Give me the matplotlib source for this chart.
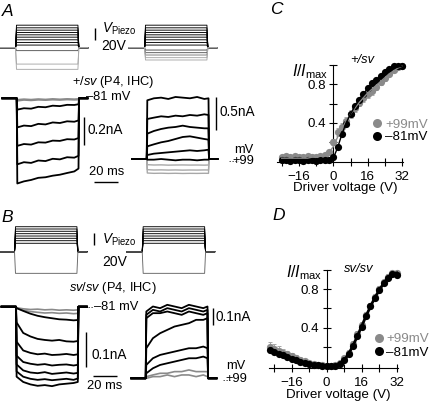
import matplotlib
matplotlib.use("Agg")
import matplotlib.pyplot as plt
from matplotlib.lines import Line2D

plt.rcParams['font.family'] = ['Liberation Sans', 'DejaVu Sans']
plt.rcParams['mathtext.fontset'] = 'custom'
plt.rcParams['mathtext.rm'] = 'Liberation Sans'
plt.rcParams['mathtext.it'] = 'Liberation Sans:italic'

# ---------------- data ----------------
# stimulus timing (ms)
T_ON, T_OFF, T_END = 12.0, 64.0, 71.0
T_IN = [12.5, 18, 24, 30, 36, 42, 48, 54, 60, 63.5]
P_T = [-1.5, T_ON - 0.4, T_ON + 0.4, T_OFF - 0.4, T_OFF + 0.4, 72.0]

# piezo protocols (V)
protoA_left_up = [4.5, 9, 13.5, 18, 22, 26, 30, 34, 38.5]
protoA_left_down = [-5, -28, -37]
protoA_right_up = [4.5, 9, 13.5, 18, 22, 26, 30, 34, 38.5]
protoA_right_down = [-4, -8.5, -12.5, -17, -21]
protoB_up = [14.4, 18.8, 22.9, 26.8, 30.8, 34.9, 38.8, 42.7]
protoB_down = [-37]

# currents (nA) during the step, at T_IN
A_left_black = [
    [-0.080, -0.070, -0.073, -0.060, -0.063, -0.052, -0.055, -0.046, -0.047, -0.042],
    [-0.205, -0.192, -0.196, -0.180, -0.184, -0.170, -0.174, -0.162, -0.165, -0.156],
    [-0.335, -0.322, -0.326, -0.310, -0.312, -0.298, -0.300, -0.288, -0.290, -0.280],
    [-0.465, -0.450, -0.455, -0.438, -0.442, -0.426, -0.430, -0.415, -0.418, -0.405],
    [-0.600, -0.585, -0.575, -0.560, -0.556, -0.545, -0.538, -0.526, -0.515, -0.495],
]
A_left_grey = [
    [-0.010, -0.006, -0.009, -0.005, -0.008, -0.004, -0.007, -0.004, -0.006, -0.004],
    [-0.018, -0.012, -0.015, -0.011, -0.013, -0.010, -0.012, -0.009, -0.011, -0.010],
]
A_right_black = [
    [0.88, 0.91, 0.92, 0.90, 0.93, 0.92, 0.91, 0.93, 0.90, 0.91],
    [0.60, 0.62, 0.64, 0.63, 0.65, 0.64, 0.66, 0.65, 0.67, 0.66],
    [0.38, 0.42, 0.45, 0.47, 0.48, 0.50, 0.48, 0.47, 0.46, 0.46],
    [0.19, 0.22, 0.25, 0.27, 0.30, 0.33, 0.34, 0.32, 0.30, 0.29],
    [0.06, 0.08, 0.09, 0.10, 0.11, 0.12, 0.13, 0.12, 0.13, 0.14],
    [-0.01, -0.01, 0.00, -0.01, -0.02, -0.01, -0.01, -0.02, -0.01, -0.01],
]
A_right_grey = [
    [-0.085, -0.090, -0.088, -0.092, -0.090, -0.089, -0.091, -0.090, -0.092, -0.090],
    [-0.160, -0.165, -0.163, -0.166, -0.164, -0.167, -0.165, -0.166, -0.164, -0.165],
    [-0.210, -0.215, -0.213, -0.216, -0.214, -0.217, -0.215, -0.216, -0.214, -0.215],
]
B_left_black = [
    [-0.004, -0.012, -0.020, -0.026, -0.030, -0.033, -0.036, -0.037, -0.039, -0.038],
    [-0.045, -0.075, -0.085, -0.092, -0.095, -0.097, -0.095, -0.099, -0.100, -0.098],
    [-0.100, -0.125, -0.132, -0.136, -0.134, -0.138, -0.137, -0.135, -0.138, -0.136],
    [-0.140, -0.158, -0.163, -0.166, -0.164, -0.168, -0.166, -0.165, -0.168, -0.166],
    [-0.165, -0.182, -0.188, -0.190, -0.187, -0.192, -0.190, -0.188, -0.191, -0.189],
    [-0.185, -0.200, -0.206, -0.209, -0.207, -0.210, -0.208, -0.206, -0.209, -0.205],
    [-0.200, -0.215, -0.222, -0.226, -0.224, -0.227, -0.222, -0.220, -0.218, -0.215],
]
B_left_grey = [
    [-0.003, -0.006, -0.008, -0.007, -0.009, -0.008, -0.010, -0.009, -0.010, -0.009],
    [-0.005, -0.010, -0.014, -0.016, -0.018, -0.017, -0.019, -0.018, -0.020, -0.019],
]
B_right_black = [
    [0.40, 0.43, 0.42, 0.44, 0.43, 0.42, 0.44, 0.43, 0.42, 0.43],
    [0.38, 0.41, 0.40, 0.42, 0.41, 0.40, 0.42, 0.41, 0.40, 0.41],
    [0.36, 0.39, 0.39, 0.40, 0.39, 0.38, 0.40, 0.39, 0.38, 0.39],
    [0.18, 0.24, 0.27, 0.29, 0.31, 0.32, 0.33, 0.35, 0.35, 0.36],
    [0.08, 0.12, 0.14, 0.15, 0.16, 0.17, 0.18, 0.18, 0.19, 0.18],
    [0.03, 0.06, 0.08, 0.09, 0.10, 0.11, 0.12, 0.12, 0.13, 0.12],
]
B_right_grey = [
    [0.01, 0.02, 0.03, 0.03, 0.04, 0.04, 0.05, 0.04, 0.04, 0.04],
    [0.00, 0.01, 0.01, 0.02, 0.01, 0.02, 0.02, 0.01, 0.02, 0.01],
]

# activation curves
C_volt = [-24, -22, -20, -18, -16, -14, -12, -10, -8, -6, -4, -2, 0, 2, 4, 6, 8,
          10, 12, 14, 16, 18, 20, 22, 24, 26, 28, 30, 32]
C_neg81 = [0.01, 0.01, 0.00, 0.01, 0.01, 0.00, 0.01, 0.01, 0.00, 0.01, 0.01, 0.01,
           0.04, 0.15, 0.28, 0.39, 0.49, 0.57, 0.64, 0.70, 0.76, 0.81, 0.85, 0.89,
           0.93, 0.96, 0.99, 0.99, 0.99]
C_pos99 = [0.04, 0.05, 0.04, 0.05, 0.04, 0.04, 0.05, 0.04, 0.04, 0.05, 0.06, 0.09,
           0.20, 0.30, 0.36, 0.42, 0.49, 0.55, 0.61, 0.66, 0.70, 0.73, 0.77, 0.82,
           0.87, 0.91, 0.95, 0.98, 0.99]
C_err = [0.01, 0.01, 0.01, 0.01, 0.01, 0.01, 0.01, 0.01, 0.01, 0.01, 0.01, 0.02,
         0.03, 0.04, 0.04, 0.04, 0.04, 0.04, 0.04, 0.04, 0.04, 0.04, 0.03, 0.03,
         0.03, 0.02, 0.02, 0.02, 0.02]
C_fit_neg81 = [0.00, 0.00, 0.00, 0.00, 0.00, 0.00, 0.00, 0.00, 0.00, 0.00, 0.01, 0.01,
               0.03, 0.14, 0.28, 0.40, 0.49, 0.57, 0.64, 0.70, 0.76, 0.81, 0.85, 0.89,
               0.92, 0.95, 0.97, 0.98, 0.99]
C_fit_pos99 = [0.03, 0.03, 0.03, 0.03, 0.03, 0.03, 0.03, 0.04, 0.04, 0.05, 0.06, 0.09,
               0.15, 0.25, 0.34, 0.42, 0.49, 0.55, 0.61, 0.66, 0.71, 0.75, 0.79, 0.83,
               0.87, 0.91, 0.94, 0.97, 0.99]

D_volt = [-26, -24, -22, -20, -18, -16, -14, -12, -10, -8, -6, -4, -2, 0, 2, 4, 6, 8,
          10, 12, 14, 16, 18, 20, 22, 24, 26, 28, 30, 32]
D_neg81 = [0.17, 0.15, 0.13, 0.11, 0.09, 0.075, 0.06, 0.045, 0.035, 0.025, 0.015, 0.008,
           0.003, 0.00, 0.00, 0.005, 0.02, 0.06, 0.12, 0.21, 0.31, 0.41, 0.52, 0.62,
           0.71, 0.79, 0.86, 0.92, 0.96, 0.95]
D_pos99 = [0.20, 0.18, 0.16, 0.14, 0.12, 0.10, 0.08, 0.065, 0.05, 0.035, 0.025, 0.015,
           0.01, 0.005, 0.005, 0.01, 0.03, 0.08, 0.14, 0.23, 0.33, 0.43, 0.53, 0.63,
           0.72, 0.80, 0.87, 0.93, 0.97, 0.97]
D_err = [0.05, 0.05, 0.045, 0.04, 0.04, 0.035, 0.03, 0.03, 0.025, 0.02, 0.02, 0.015,
         0.01, 0.01, 0.01, 0.01, 0.015, 0.02, 0.03, 0.03, 0.03, 0.03, 0.03, 0.03,
         0.03, 0.03, 0.03, 0.03, 0.02, 0.02]
D_fit = [0.165, 0.145, 0.125, 0.107, 0.09, 0.075, 0.06, 0.047, 0.035, 0.025, 0.016,
         0.009, 0.004, 0.001, 0.0, 0.005, 0.02, 0.06, 0.125, 0.21, 0.31, 0.415, 0.52,
         0.62, 0.71, 0.79, 0.86, 0.92, 0.96, 0.97]

GREY = '#8a8a8a'
LGREY = '#a8a8a8'

W, H = 430, 403
fig = plt.figure(figsize=(W / 100, H / 100), dpi=100)
FS = 9.3


def px_axes(l, t, r, b):
    return fig.add_axes([l / W, 1 - b / H, (r - l) / W, (b - t) / H])


def scaled_axes(l, t, r, b, x0, y0, sx, sy):
    ax = px_axes(l, t, r, b)
    ax.set_xlim((l - x0) / sx, (r - x0) / sx)
    ax.set_ylim((y0 - b) / sy, (y0 - t) / sy)
    ax.axis('off')
    return ax


def draw_traces(ax, traces, color, lw):
    for vals in traces:
        t = [0, T_ON] + T_IN + [T_OFF, T_END]
        y = [0, 0] + list(vals) + [0, 0]
        ax.plot(t, y, color=color, lw=lw, solid_joinstyle='round')


def draw_protocol(ax, up, down, down_colors):
    for lev in up:
        ax.plot(P_T, [0, 0, lev, lev, 0, 0], color='black', lw=0.65)
    for lev, c in zip(down, down_colors):
        ax.plot(P_T, [0, 0, lev, lev, 0, 0], color=c, lw=0.65)


MS = 1.2      # px per ms
PV = 0.585    # px per V

# ---- protocols ----
axp = scaled_axes(0, 15, 92, 75, 16 - T_ON * MS, 47.7, MS, PV)
draw_protocol(axp, protoA_left_up, protoA_left_down, ['#555555', LGREY, LGREY])
axp = scaled_axes(128, 15, 220, 75, 145 - T_ON * MS, 47.7, MS, PV)
draw_protocol(axp, protoA_right_up, protoA_right_down,
              ['#444444', '#555555', '#777777', LGREY, LGREY])
axp = scaled_axes(0, 220, 92, 280, 15 - T_ON * MS, 251.7, MS, PV)
draw_protocol(axp, protoB_up, protoB_down, ['#666666'])
axp = scaled_axes(125, 220, 220, 280, 142.7 - T_ON * MS, 251.7, MS, PV)
draw_protocol(axp, protoB_up, protoB_down, ['#666666'])

# ---- current traces ----
ax = scaled_axes(0, 90, 92, 190, 16.7 - T_ON * MS, 98.3, MS, 142)
draw_traces(ax, A_left_grey, GREY, 1.2)
draw_traces(ax, A_left_black, 'black', 1.3)
ax = scaled_axes(128, 90, 222, 180, 146.7 - T_ON * MS, 159, MS, 66.7)
draw_traces(ax, A_right_grey, LGREY, 1.0)
draw_traces(ax, A_right_black, 'black', 1.3)
ax = scaled_axes(0, 298, 92, 395, 16 - T_ON * MS, 306.7, MS, 350)
draw_traces(ax, B_left_grey, GREY, 1.2)
draw_traces(ax, B_left_black, 'black', 1.3)
ax = scaled_axes(125, 300, 222, 392, 145.7 - T_ON * MS, 378.3, MS, 167)
draw_traces(ax, B_right_grey, GREY, 1.2)
draw_traces(ax, B_right_black, 'black', 1.3)


# ---- activation curves ----
def iv_axes(l, t, r, b, xlim, ylim, volt, grey, black, err, fit_black, fit_grey,
            thick):
    ax = px_axes(l, t, r, b)
    ax.set_xlim(*xlim)
    ax.set_ylim(*ylim)
    for s in ['top', 'right']:
        ax.spines[s].set_visible(False)
    ax.spines['left'].set_position(('data', 0))
    for s in ['left', 'bottom']:
        ax.spines[s].set_linewidth(0.8)
    ax.set_xticks([-16, 0, 16, 32])
    ax.set_xticklabels(['\u221216', '0', '16', '32'])
    ax.set_xticks([-24, -8, 8, 24], minor=True)
    ax.set_yticks([0.4, 0.8])
    ax.set_yticklabels(['0.4', '0.8'])
    ax.set_yticks([0.2, 0.6, 1.0], minor=True)
    ax.tick_params(which='both', direction='inout', length=6, width=0.8,
                   labelsize=FS + 0.3, pad=2.5)
    ax.tick_params(axis='x', pad=3.5)
    ax.set_facecolor('none')
    ax.errorbar(volt, grey, yerr=err, fmt='none', ecolor=LGREY, elinewidth=0.7,
                capsize=1.5, capthick=0.7, clip_on=False, zorder=2)
    ax.plot(volt, grey, 'o', color=GREY, ms=5.2, mew=0, clip_on=False, zorder=3)
    ax.plot(volt, black, 'o', color='black', ms=5.2, mew=0, clip_on=False, zorder=4)
    if fit_grey is not None:
        ax.plot(volt, fit_grey, color=GREY, lw=1.0, zorder=5)
    ax.plot(volt, fit_black, color='black', lw=thick, zorder=6)
    return ax


axC = iv_axes(277.4, 65.2, 403.2, 162, (-26, 32.5), (-0.01, 1.0), C_volt, C_pos99,
              C_neg81, C_err, C_fit_neg81, C_fit_pos99, 1.0)
axD = iv_axes(268.7, 270, 397.8, 367.9, (-26.5, 32.5), (-0.02, 1.0), D_volt, D_pos99,
              D_neg81, D_err, D_fit, None, 2.0)

for axx, (lx, ly), pitch in [(axC, (373.2, 131), 0.0), (axD, (374.5, 346), 0.1)]:
    handles = [Line2D([], [], ls='none', marker='o', color=GREY, ms=6.5, mew=0),
               Line2D([], [], ls='none', marker='o', color='black', ms=6.5, mew=0)]
    leg = axx.legend(handles, ['+99mV', '\u201381mV'], loc='center left',
                     bbox_to_anchor=(lx / W, 1 - ly / H),
                     bbox_transform=fig.transFigure, frameon=False, fontsize=FS + 0.3,
                     handlelength=0.6, handletextpad=0.3, labelspacing=pitch,
                     borderpad=0, borderaxespad=0)
    leg.get_texts()[0].set_color(GREY)

# ---- overlay for labels and scale bars ----
ov = fig.add_axes([0, 0, 1, 1])
ov.set_xlim(0, W)
ov.set_ylim(H, 0)
ov.axis('off')


def txt(x, y, s, ha='left', va='center', size=FS, **kw):
    ov.text(x, y, s, ha=ha, va=va, fontsize=size, **kw)


def bar(x0, y0, x1, y1, **kw):
    ov.plot([x0, x1], [y0, y1], color=kw.pop('color', 'black'), lw=kw.pop('lw', 1.0),
            solid_capstyle='butt', **kw)


# panel letters
txt(1.5, 11, 'A', size=12.5, style='italic')
txt(1.5, 217, 'B', size=12.5, style='italic')
txt(270, 10, 'C', size=12.5, style='italic')
txt(272, 215, 'D', size=12.5, style='italic')

# A annotations
bar(95, 28.3, 95, 28.3 + 20 * PV)
txt(101.5, 29, r'$\mathit{V}_{\mathrm{Piezo}}$', size=9.8)
txt(101.5, 46.5, '20V', size=10)
txt(113, 82, r'$\mathit{+/sv}$ (P4, IHC)', ha='center')
txt(85.5, 97.5, '\u201381 mV')
bar(84, 116.7, 84, 116.7 + 0.2 * 142)
txt(88, 130, '0.2nA', size=9.8)
bar(94.3, 181.5, 94.3 + 20 * MS, 181.5)
txt(106.3, 172, '20 ms', ha='center')
bar(216, 96.7, 216, 96.7 + 0.5 * 66.7)
txt(220, 112, '0.5nA', size=9.8)
txt(253.5, 150, 'mV', ha='right')
txt(254, 161, '+99', ha='right')
bar(229, 160.5, 238, 160.5, lw=0.7, ls=(0, (1.5, 1.5)), color='#555555')

# B annotations
bar(94, 233, 94, 233 + 20 * PV)
txt(101.5, 240, r'$\mathit{V}_{\mathrm{Piezo}}$', size=9.8)
txt(102, 262.5, '20V', size=10)
txt(113, 288, r'$\mathit{sv/sv}$ (P4, IHC)', ha='center')
bar(88, 306.5, 93, 306.5, lw=0.7, ls=(0, (1.5, 1.5)), color='#555555')
txt(94.5, 306.5, '\u201381 mV')
bar(86, 331.7, 86, 331.7 + 0.1 * 350)
txt(91, 355, '0.1nA', size=9.8)
bar(92.7, 376, 92.7 + 20 * MS, 376)
txt(104.7, 386, '20 ms', ha='center')
bar(213, 308.3, 213, 308.3 + 0.1 * 167)
txt(216, 317, '0.1nA', size=9.8)
txt(245, 366, 'mV', ha='right')
txt(247, 379.5, '+99', ha='right')
bar(223, 379.5, 230, 379.5, lw=0.7, ls=(0, (1.5, 1.5)), color='#555555')

# C / D annotations
txt(328, 72, r'$\mathit{I/I}_{\mathrm{max}}$', ha='right', size=11.5)
txt(362, 60, '+/sv', ha='center', style='italic')
txt(322, 273, r'$\mathit{I/I}_{\mathrm{max}}$', ha='right', size=11.5)
txt(359, 269, 'sv/sv', ha='center', style='italic')
txt(345, 187.5, 'Driver voltage (V)', ha='center', size=9.6)
txt(338, 395, 'Driver voltage (V)', ha='center', size=9.6)

fig.savefig('out.png', dpi=100)
